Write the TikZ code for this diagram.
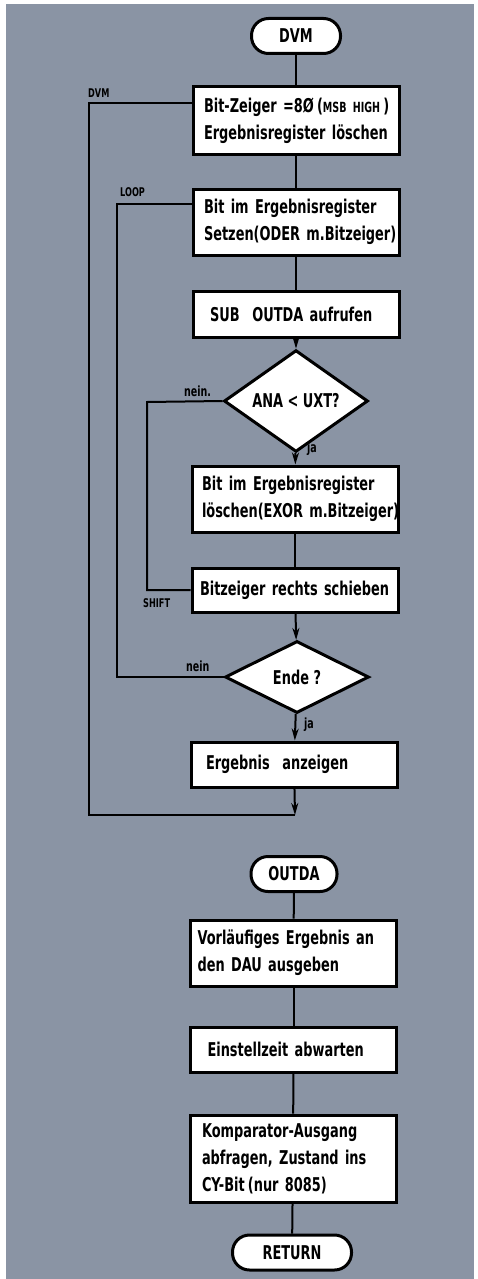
\documentclass[tikz,border=0pt]{standalone}
\usepackage{fontspec}
\setmainfont{DejaVu Sans}[FakeStretch=0.68]
\usetikzlibrary{shapes.geometric,arrows.meta}
\definecolor{bg}{RGB}{138,148,164}
\newcommand{\bl}[1]{\mbox{#1}}
\begin{document}
\begin{tikzpicture}[x=1pt,y=-1pt,
  box/.style={draw,line width=3pt,fill=white,minimum width=206pt,text width=192pt,
    inner xsep=7pt,inner ysep=0pt,align=left,font=\fontsize{19}{27}\selectfont\bfseries},
  term/.style={draw,line width=3pt,fill=white,rounded corners=17pt,minimum height=35pt,
    inner sep=0pt,font=\fontsize{19}{22}\selectfont\bfseries},
  dec/.style={draw,line width=3pt,fill=white,diamond,minimum width=144pt,minimum height=72pt,
    inner sep=0pt,font=\fontsize{19}{22}\selectfont\bfseries},
  conn/.style={line width=2pt},
  arr/.style={line width=2pt,-{Stealth[length=12pt,width=7pt]}},
  capl/.style={font=\fontsize{12}{14}\selectfont\bfseries,inner sep=0pt},
  lowl/.style={font=\fontsize{14}{16}\selectfont\bfseries,inner sep=0pt}
]
\useasboundingbox (0,0) rectangle (477,1279);
\fill[white] (0,0) rectangle (477,1279);
\fill[bg] (6,4) rectangle (474,1279);

% main flow
\node[term,minimum width=89pt] (t1) at (296,36) {DVM};
\node[box,minimum height=67pt] (b1) at (296,120.5) {\bl{\hspace*{4pt}Bit-Zeiger =8Ø\,({\fontsize{14}{15}\selectfont MSB HIGH}\,)}\\\bl{\hspace*{4pt}Ergebnisregister löschen}};
\node[box,minimum height=66pt] (b2) at (296,222) {\bl{\hspace*{4pt}Bit im Ergebnisregister}\\\bl{\hspace*{4pt}Setzen(ODER m.Bitzeiger)}};
\node[box,minimum height=46pt] (b3) at (296,314) {\bl{\hspace*{10pt}SUB\ \ OUTDA aufrufen}};
\node[dec] (d1) at (296,401) {ANA < UXT?};
\node[box,minimum height=66pt] (b4) at (295,499) {\bl{\hspace*{3pt}Bit im Ergebnisregister}\\\bl{\hspace*{3pt}löschen(EXOR m.Bitzeiger)}};
\node[box,minimum height=44pt] (b5) at (295,590) {\bl{\hspace*{1pt}Bitzeiger rechts schieben}};
\node[dec] (d2) at (297,677) {Ende ?};
\node[box,minimum height=45pt] (b6) at (294,764.5) {\bl{\hspace*{8pt}Ergebnis\ \ anzeigen}};
\coordinate (j) at (295,815);
\coordinate (dvmc) at (89,103);
\coordinate (loopc) at (117,204);
\coordinate (neinc) at (147,402);

\draw[conn] (t1) -- (b1);
\draw[conn] (b1) -- (b2);
\draw[conn] (b2) -- (b3);
\draw[arr] (b3) -- (d1);
\draw[arr] (d1) -- (b4);
\draw[conn] (b4) -- (b5);
\draw[arr] (b5) -- (d2);
\draw[arr] (d2) -- (b6);
\draw[arr] (b6) -- (j);
\draw[conn] (j) -| (dvmc) -- (dvmc -| b1.west);
\draw[conn] (d2.west) -| (loopc) -- (loopc -| b2.west);
\draw[conn] (d1.west) -- (neinc) |- (b5.west);

% labels
\node[capl,anchor=west] (ldvm) at (88,93) {DVM};
\node[capl,anchor=west] (lloop) at (120,192) {LOOP};
\node[capl,anchor=west] (lshift) at (143,603) {SHIFT};
\node[lowl,anchor=west] (lnein1) at (184,391) {nein.};
\node[lowl,anchor=west] (lja1) at (307,449) {ja};
\node[lowl,anchor=west] (lnein2) at (186,666) {nein};
\node[lowl,anchor=west] (lja2) at (304,725) {ja};

% subroutine
\node[term,minimum width=86pt] (t2) at (294,874) {OUTDA};
\node[box,minimum height=66pt] (b7) at (293.5,953) {\bl{Vorläufiges Ergebnis an}\\\bl{den DAU ausgeben}};
\node[box,minimum height=45pt] (b8) at (293.5,1049.5) {\bl{\hspace*{10pt}Einstellzeit abwarten}};
\node[box,minimum height=87pt] (b9) at (293,1158.5) {\bl{\hspace*{5pt}Komparator-Ausgang}\\\bl{\hspace*{5pt}abfragen, Zustand ins}\\\bl{\hspace*{5pt}CY-Bit\,(nur 8085)}};
\node[term,minimum width=119pt] (t3) at (292,1252.5) {RETURN};

\draw[conn] (t2) -- (b7);
\draw[conn] (b7) -- (b8);
\draw[conn] (b8) -- (b9);
\draw[conn] (b9) -- (t3);
\end{tikzpicture}
\end{document}
